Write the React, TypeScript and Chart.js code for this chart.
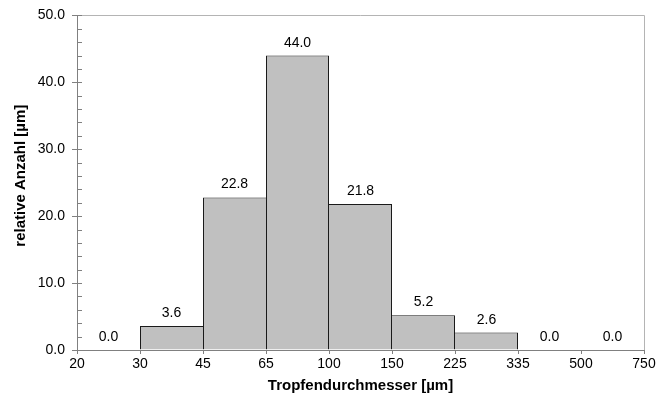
import React, { useEffect, useRef } from "react";
import { Chart, registerables } from "chart.js";

Chart.register(...registerables);

// Bin edges shown on the x axis (µm)
const binEdges = ["20", "30", "45", "65", "100", "150", "225", "335", "500", "750"];
// Categories (bins between edges)
const binLabels = ["20-30", "30-45", "45-65", "65-100", "100-150", "150-225", "225-335", "335-500", "500-750"];
// Relative count per bin
const values = [0.0, 3.6, 22.8, 44.0, 21.8, 5.2, 2.6, 0.0, 0.0];

const yMax = 50;
const yStep = 10;
const yMinorStep = 2;

const yTitle = "relative Anzahl [µm]";
const xTitle = "Tropfendurchmesser [µm]";

const FONT = "'Liberation Sans', Arial, sans-serif";

const decorPlugin = {
  id: "decor",
  afterDatasetsDraw(chart: any) {
    const { ctx, chartArea: a, scales } = chart;
    const y = scales.y;
    ctx.save();
    // top & right frame
    ctx.strokeStyle = "#b4b4b4";
    ctx.lineWidth = 1;
    ctx.beginPath();
    const top = Math.round(a.top) + 0.5;
    const right = Math.round(a.right) + 0.5;
    ctx.moveTo(a.left, top);
    ctx.lineTo(right, top);
    ctx.lineTo(right, a.bottom);
    ctx.stroke();
    // inner minor ticks on y axis
    ctx.strokeStyle = "#808080";
    ctx.beginPath();
    for (let v = 0; v <= yMax; v += yMinorStep) {
      const py = Math.round(y.getPixelForValue(v)) + 0.5;
      ctx.moveTo(Math.round(a.left), py);
      ctx.lineTo(Math.round(a.left) + 5, py);
    }
    ctx.stroke();
    // value labels
    ctx.fillStyle = "#000";
    ctx.font = `14px ${FONT}`;
    ctx.textAlign = "center";
    ctx.textBaseline = "alphabetic";
    const meta = chart.getDatasetMeta(0);
    meta.data.forEach((bar: any, i: number) => {
      ctx.fillText(values[i].toFixed(1), bar.x, bar.y - 9);
    });
    // y axis title
    ctx.font = `bold 15px ${FONT}`;
    ctx.textBaseline = "middle";
    ctx.translate(21, (a.top + a.bottom) / 2 - 7);
    ctx.rotate(-Math.PI / 2);
    ctx.fillText(yTitle, 0, 0);
    ctx.restore();
  },
};

export default function App() {
  const ref = useRef<HTMLCanvasElement>(null);

  useEffect(() => {
    if (!ref.current) return;
    const chart = new Chart(ref.current, {
      type: "bar",
      data: {
        labels: binLabels,
        datasets: [
          {
            data: values,
            backgroundColor: "#c0c0c0",
            borderColor: "#1a1a1a",
            borderSkipped: false,
            inflateAmount: 0,
            barPercentage: 1,
            categoryPercentage: 1,
            borderWidth: (c: any) => {
              const i = c.dataIndex;
              const v = values[i];
              if (!v) return 0;
              const prev = i > 0 ? values[i - 1] : 0;
              const next = i < values.length - 1 ? values[i + 1] : 0;
              return { top: 1, left: v >= prev ? 1 : 0, right: v > next ? 1 : 0, bottom: 0 };
            },
          } as any,
        ],
      },
      options: {
        responsive: false,
        animation: false,
        layout: { padding: { top: 14, right: 15, bottom: 0, left: 0 } },
        plugins: {
          legend: { display: false },
          tooltip: { enabled: false },
        },
        scales: {
          x: { type: "category", display: false, offset: true },
          x2: {
            type: "linear",
            position: "bottom",
            min: 0,
            max: binEdges.length - 1,
            offset: false,
            ticks: {
              stepSize: 1,
              autoSkip: false,
              maxRotation: 0,
              padding: 2,
              color: "#000",
              font: { family: FONT, size: 14 },
              callback: (v: any) => binEdges[v as number] ?? "",
            },
            grid: { offset: false, drawOnChartArea: false, drawTicks: true, tickLength: 4, color: "#808080" },
            border: { display: true, color: "#808080" },
            title: {
              display: true,
              text: xTitle,
              color: "#000",
              font: { family: FONT, size: 15, weight: "bold" },
              padding: { top: 0, bottom: 4 },
            },
            afterFit: (s: any) => {
              s.height = 49;
            },
          } as any,
          y: {
            min: 0,
            max: yMax,
            ticks: {
              stepSize: yStep,
              padding: 7,
              color: "#000",
              font: { family: FONT, size: 14 },
              callback: (v: any) => Number(v).toFixed(1),
            },
            grid: { drawOnChartArea: false, drawTicks: true, tickLength: 5, color: "#808080" },
            border: { display: true, color: "#808080" },
            title: { display: false },
            afterFit: (s: any) => {
              s.width = 77;
            },
          } as any,
        },
      },
      plugins: [decorPlugin],
    });
    return () => chart.destroy();
  }, []);

  return (
    <div style={{ position: "fixed", left: 0, top: 0, width: 659, height: 399, background: "#fff" }}>
      <canvas ref={ref} width={659} height={399} style={{ display: "block" }} />
    </div>
  );
}
